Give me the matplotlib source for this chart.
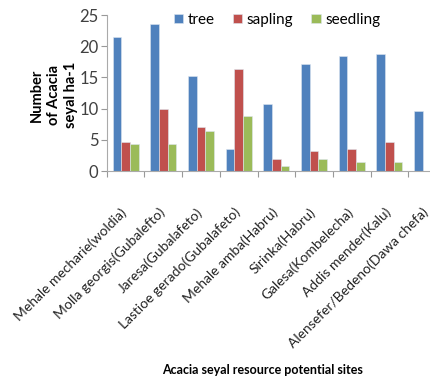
import numpy as np
import matplotlib
matplotlib.use('Agg')
import matplotlib.pyplot as plt
import matplotlib.transforms as mtransforms

plt.rcParams['font.family'] = ['Lato', 'DejaVu Sans']

sites = ['Mehale mecharie(woldia)', 'Molla georgis(Gubalefto)', 'Jaresa(Gubalafeto)',
         'Lastioe gerado(Gubalafeto)', 'Mehale amba(Habru)', 'Sirinka(Habru)',
         'Galesa(Kombelecha)', 'Addis mender(Kalu)', 'Alensefer/Bedeno(Dawa chefa)']
tree = [21.4, 23.5, 15.2, 3.5, 10.7, 17.1, 18.4, 18.8, 9.6]
# last site: only the tree bar is visible in the chart
sapling = [4.7, 9.9, 7.1, 16.3, 2.0, 3.2, 3.5, 4.7, 0]
seedling = [4.3, 4.3, 6.4, 8.8, 0.75, 2.0, 1.45, 1.45, 0]

colors = ['#4F81BD', '#C0504D', '#9BBB59']

fig = plt.figure(figsize=(4.3, 3.79), dpi=100)
# axes runs past the right edge, last group is clipped like the original
ax = fig.add_axes([106.7 / 430, 1 - 171 / 379, 339.3 / 430, 156 / 379])

x = np.arange(len(sites))
w = 0.23
for k, (vals, lab) in enumerate(zip([tree, sapling, seedling], ['tree', 'sapling', 'seedling'])):
    ax.bar(x + (k - 1) * w, vals, w, color=colors[k], label=lab,
           edgecolor='#dde6f0', linewidth=0.4)

ax.set_xlim(-0.5, len(sites) - 0.5)
ax.set_ylim(0, 25)
ax.set_yticks([0, 5, 10, 15, 20, 25])
ax.set_xticks(np.arange(len(sites) + 1) - 0.5)
ax.set_xticklabels([])
ax.set_xticks(x, minor=True)
ax.set_xticklabels(sites, minor=True, rotation=45, ha='right', va='top',
                   rotation_mode='anchor', fontsize=10, color='#222222')
ax.tick_params(axis='x', which='minor', length=0, pad=15)
ax.tick_params(axis='x', which='major', length=4, color='#999999', direction='out')
ax.tick_params(axis='y', length=4, color='#999999', labelsize=12, labelcolor='#404040', pad=2)
shift = mtransforms.ScaledTranslation(-5 / 100, -14 / 100, fig.dpi_scale_trans)
for t in ax.get_xticklabels(minor=True):
    t.set_transform(t.get_transform() + shift)
for s in ['top', 'right']:
    ax.spines[s].set_visible(False)
for s in ['left', 'bottom']:
    ax.spines[s].set_color('#aaaaaa')

fig.text(54 / 430, 1 - 95 / 379, 'Number\nof Acacia\nseyal ha-1', rotation=90,
         ha='center', va='center', fontsize=10.5, fontweight='bold', linespacing=1.3)
fig.text(263 / 430, 1 - 370 / 379, 'Acacia seyal resource potential sites',
         ha='center', va='center', fontsize=9, fontweight='bold')

fig.legend(loc='center', bbox_to_anchor=(277 / 430, 1 - 20 / 379), ncol=3, frameon=False,
           fontsize=11, handlelength=0.6, handleheight=0.6, handletextpad=0.3,
           columnspacing=1.2)

fig.savefig('out.png', dpi=100)
